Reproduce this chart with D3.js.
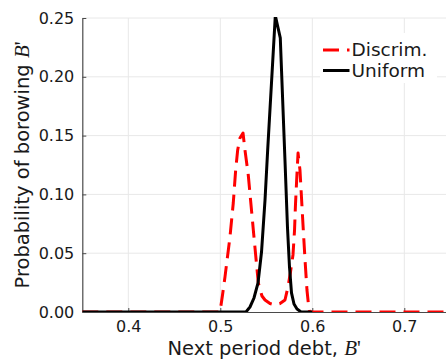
<!DOCTYPE html>
<html>
<head>
<meta charset="utf-8">
<script src="https://cdn.jsdelivr.net/npm/d3@7"></script>
<style>
  html, body { margin: 0; padding: 0; background: #fff; }
  svg { display: block; }
  text { font-family: "DejaVu Sans", sans-serif; fill: #1a1a1a; }
</style>
</head>
<body>
<svg id="chart" width="446" height="360"></svg>
<script>
// Borrowing distribution over next-period debt B'
const discrimB = [0.35, 0.4997, 0.5024, 0.5051, 0.5105, 0.5141, 0.5167, 0.5189, 0.5214, 0.5247,
  0.5268, 0.5304, 0.5359, 0.5413, 0.5453, 0.5486, 0.5540, 0.5595, 0.5649, 0.5703,
  0.5736, 0.5763, 0.5790, 0.5807, 0.5817, 0.5830, 0.5845, 0.5866, 0.5899, 0.5921,
  0.5942, 0.5959, 0.5970, 0.76];
const discrimProb = [0, 0, 0.0145, 0.0299, 0.0638, 0.0927, 0.1207, 0.1378, 0.1480, 0.1522,
  0.1378, 0.1165, 0.0697, 0.0247, 0.0136, 0.0102, 0.0072, 0.0060, 0.0072, 0.0102,
  0.0213, 0.0340, 0.0485, 0.0697, 0.0910, 0.1122, 0.1352, 0.1207, 0.0740, 0.0442,
  0.0187, 0.0060, 0, 0];

const uniformB = [0.35, 0.5279, 0.5323, 0.5366, 0.5410, 0.5448, 0.5486, 0.5515, 0.5598,
  0.5652, 0.5703, 0.5730, 0.5752, 0.5774, 0.5801, 0.5834, 0.5877, 0.60];
const uniformProb = [0, 0, 0.0043, 0.0119, 0.0247, 0.0510, 0.0952, 0.1378, 0.2520,
  0.2330, 0.1290, 0.0723, 0.0383, 0.0162, 0.0068, 0.0026, 0, 0];

const xTicks = [0.4, 0.5, 0.6, 0.7];
const yTicks = [0.00, 0.05, 0.10, 0.15, 0.20, 0.25];
const seriesNames = ["Discrim.", "Uniform"];

const svg = d3.select("#chart");
const plot = { left: 82.3, right: 446, top: 18, bottom: 312 };

const x = d3.scaleLinear()
  .domain([0.35, 0.35 + (plot.right - plot.left) / 920])
  .range([plot.left, plot.right]);
const y = d3.scaleLinear().domain([0, 0.25]).range([plot.bottom, plot.top]);

// clip region for the data lines
svg.append("defs").append("clipPath").attr("id", "plotclip")
  .append("rect")
  .attr("x", plot.left).attr("y", plot.top - 1)
  .attr("width", plot.right - plot.left).attr("height", plot.bottom - plot.top + 1);

// grid
const grid = svg.append("g");
grid.selectAll("line.gx").data(xTicks).join("line")
  .attr("x1", d => x(d)).attr("x2", d => x(d))
  .attr("y1", plot.top).attr("y2", plot.bottom)
  .attr("stroke", "#e8e8e8").attr("stroke-width", 1);
grid.selectAll("line.gy").data(yTicks.filter(d => d > 0)).join("line")
  .attr("x1", plot.left).attr("x2", plot.right)
  .attr("y1", d => y(d)).attr("y2", d => y(d))
  .attr("stroke", "#e8e8e8").attr("stroke-width", 1);

// axes (ticks point inward)
const xAxis = d3.axisBottom(x).tickValues(xTicks).tickFormat(d3.format(".1f"))
  .tickSizeInner(-4).tickSizeOuter(0).tickPadding(10);
const yAxis = d3.axisLeft(y).tickValues(yTicks).tickFormat(d3.format(".2f"))
  .tickSizeInner(-4).tickSizeOuter(0).tickPadding(8);

const gx = svg.append("g").attr("transform", `translate(0,${plot.bottom})`).call(xAxis);
const gy = svg.append("g").attr("transform", `translate(${plot.left},0)`).call(yAxis);
[gx, gy].forEach(g => {
  g.select(".domain").attr("stroke", "#4a4a4a").attr("stroke-width", 1.2);
  g.selectAll(".tick line").attr("stroke", "#4a4a4a").attr("stroke-width", 1);
  g.selectAll(".tick text").attr("font-family", "DejaVu Sans").attr("font-size", 16).attr("fill", "#1a1a1a");
});
gx.selectAll(".tick text").attr("dy", "0.71em").attr("y", 9);

// series
const line = d3.line().x(d => x(d[0])).y(d => y(d[1])).curve(d3.curveLinear);
const lines = svg.append("g").attr("clip-path", "url(#plotclip)");

lines.append("path")
  .datum(discrimB.map((b, i) => [b, discrimProb[i]]))
  .attr("d", line)
  .attr("fill", "none").attr("stroke", "#ff0000").attr("stroke-width", 3)
  .attr("stroke-dasharray", "16,8").attr("stroke-linejoin", "round");

lines.append("path")
  .datum(uniformB.map((b, i) => [b, uniformProb[i]]))
  .attr("d", line)
  .attr("fill", "none").attr("stroke", "#000").attr("stroke-width", 3)
  .attr("stroke-linejoin", "miter");

// axis titles
const xt = svg.append("text")
  .attr("x", (plot.left + plot.right) / 2).attr("y", 355)
  .attr("text-anchor", "middle").attr("font-size", 19.5);
xt.append("tspan").text("Next period debt, ");
xt.append("tspan").attr("font-family", "Liberation Serif").attr("font-style", "italic")
  .attr("font-size", 21).text("B");
xt.append("tspan").attr("font-family", "Liberation Serif").attr("font-size", 21).text("'");

const yt = svg.append("text")
  .attr("transform", `translate(28.5,${(plot.top + plot.bottom) / 2}) rotate(-90)`)
  .attr("text-anchor", "middle").attr("font-size", 19.5);
yt.append("tspan").text("Probability of borowing ");
yt.append("tspan").attr("font-family", "Liberation Serif").attr("font-style", "italic")
  .attr("font-size", 21).text("B");
yt.append("tspan").attr("font-family", "Liberation Serif").attr("font-size", 21).text("'");

// legend
const legend = svg.append("g");
legend.append("rect").attr("x", 320).attr("y", 33).attr("width", 117).attr("height", 50)
  .attr("fill", "#fff");
const legendItems = [
  { name: seriesNames[0], color: "#ff0000", dash: "16,8", yy: 50 },
  { name: seriesNames[1], color: "#000", dash: null, yy: 70.5 }
];
legendItems.forEach(it => {
  legend.append("line").attr("x1", 323).attr("x2", 349.5).attr("y1", it.yy).attr("y2", it.yy)
    .attr("stroke", it.color).attr("stroke-width", 3)
    .attr("stroke-dasharray", it.dash);
  legend.append("text").attr("x", 351.5).attr("y", it.yy).attr("dy", "0.35em")
    .attr("font-size", 18.5).text(it.name);
});
</script>
</body>
</html>
